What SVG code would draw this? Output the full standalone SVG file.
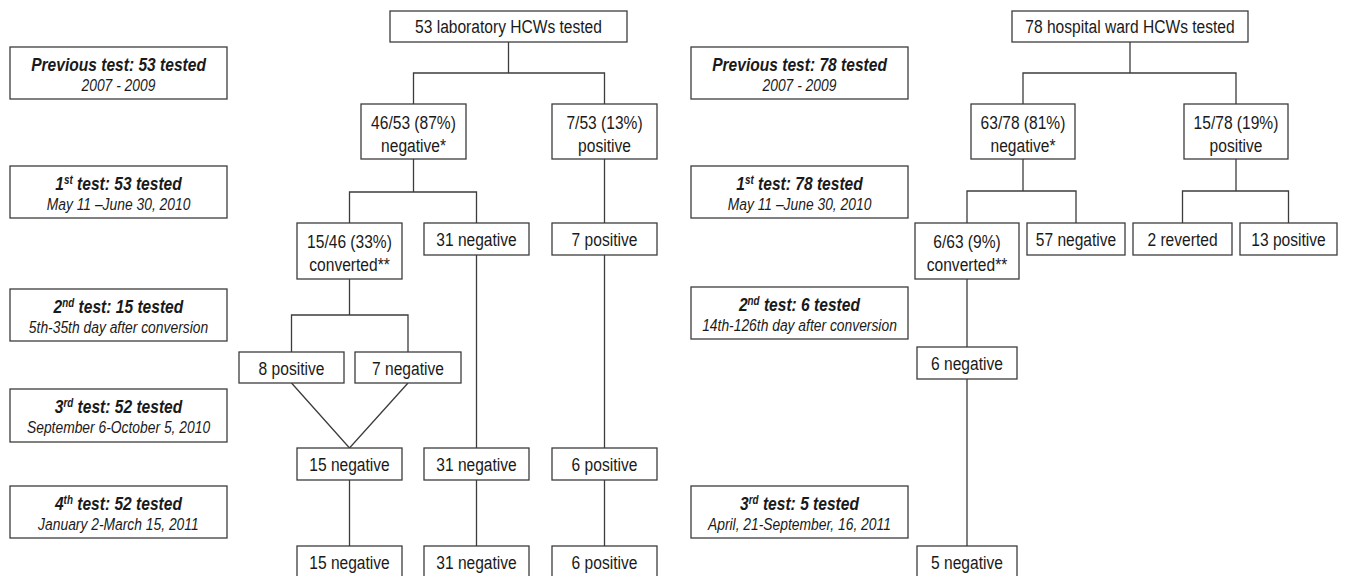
<svg xmlns="http://www.w3.org/2000/svg" width="1345" height="576" viewBox="0 0 1345 576">
<style>
.box{fill:#fff;stroke:#3c3c3c;stroke-width:1.3}
.ln{fill:none;stroke:#3c3c3c;stroke-width:1.3}
text{font-family:"Liberation Sans Narrow","Arial Narrow","Liberation Sans",sans-serif;font-size:19px;fill:#1a1a1a;text-anchor:middle;transform-box:fill-box;transform-origin:center;transform:scaleX(0.82)}
.lb{font-weight:bold;font-style:italic}
.ls{font-style:italic;font-size:16.5px;transform:scaleX(0.84)}
.sup{font-size:12px}
</style>
<rect width="1345" height="576" fill="#fff"/>
<g id="connectors">
<polyline class="ln" points="508.5,42 508.5,73"/>
<polyline class="ln" points="413.5,104 413.5,73 604.5,73 604.5,104"/>
<polyline class="ln" points="413.5,159 413.5,192"/>
<polyline class="ln" points="349.5,223 349.5,192 476.5,192 476.5,223"/>
<polyline class="ln" points="604.5,159 604.5,223"/>
<polyline class="ln" points="349.5,279 349.5,315"/>
<polyline class="ln" points="291.5,352 291.5,315 408,315 408,352"/>
<polyline class="ln" points="476.5,255 476.5,448"/>
<polyline class="ln" points="604.5,255 604.5,448"/>
<polyline class="ln" points="291.5,383 349.5,448 408,383"/>
<polyline class="ln" points="349.5,480 349.5,546"/>
<polyline class="ln" points="476.5,480 476.5,546"/>
<polyline class="ln" points="604.5,480 604.5,546"/>
<polyline class="ln" points="1130,42 1130,73"/>
<polyline class="ln" points="1023,104 1023,73 1236,73 1236,104"/>
<polyline class="ln" points="1023,159 1023,191"/>
<polyline class="ln" points="967,223 967,191 1076,191 1076,223"/>
<polyline class="ln" points="1236,159 1236,191"/>
<polyline class="ln" points="1182.5,223 1182.5,191 1288.5,191 1288.5,223"/>
<polyline class="ln" points="967,279 967,347"/>
<polyline class="ln" points="967,379 967,546"/>
</g>
<g id="label-prev-left"><rect class="box" x="10" y="47" width="217" height="52"/><text class="lb" x="118.5" y="71">Previous test: 53 tested</text><text class="ls" x="118.5" y="91">2007 - 2009</text></g>
<g id="label-1st-left"><rect class="box" x="10" y="166" width="217" height="52"/><text class="lb" x="118.5" y="190">1<tspan class="sup" dy="-6">st</tspan><tspan dy="6"> test: 53 tested</tspan></text><text class="ls" x="118.5" y="210">May 11 –June 30, 2010</text></g>
<g id="label-2nd-left"><rect class="box" x="10" y="289" width="217" height="52"/><text class="lb" x="118.5" y="313">2<tspan class="sup" dy="-6">nd</tspan><tspan dy="6"> test: 15 tested</tspan></text><text class="ls" x="118.5" y="333">5th-35th day after conversion</text></g>
<g id="label-3rd-left"><rect class="box" x="10" y="389" width="217" height="53"/><text class="lb" x="118.5" y="413">3<tspan class="sup" dy="-6">rd</tspan><tspan dy="6"> test: 52 tested</tspan></text><text class="ls" x="118.5" y="433">September 6-October 5, 2010</text></g>
<g id="label-4th-left"><rect class="box" x="10" y="486" width="217" height="52"/><text class="lb" x="118.5" y="510">4<tspan class="sup" dy="-6">th</tspan><tspan dy="6"> test: 52 tested</tspan></text><text class="ls" x="118.5" y="530">January 2-March 15, 2011</text></g>
<g id="lab-top"><rect class="box" x="390" y="11" width="237" height="31"/><text x="508.5" y="33">53 laboratory HCWs tested</text></g>
<g id="lab-neg"><rect class="box" x="361" y="104" width="105" height="55"/><text x="413.5" y="129">46/53 (87%)</text><text x="413.5" y="152">negative*</text></g>
<g id="lab-pos"><rect class="box" x="552" y="104" width="105" height="55"/><text x="604.5" y="129">7/53 (13%)</text><text x="604.5" y="152">positive</text></g>
<g id="lab-conv"><rect class="box" x="297" y="223" width="105" height="56"/><text x="349.5" y="248">15/46 (33%)</text><text x="349.5" y="271">converted**</text></g>
<g id="lab-neg31-1"><rect class="box" x="424" y="223" width="105" height="32"/><text x="476.5" y="246">31 negative</text></g>
<g id="lab-pos7"><rect class="box" x="552" y="223" width="105" height="32"/><text x="604.5" y="246">7 positive</text></g>
<g id="lab-pos8"><rect class="box" x="239" y="352" width="105" height="31"/><text x="291.5" y="375">8 positive</text></g>
<g id="lab-neg7"><rect class="box" x="355" y="352" width="106" height="31"/><text x="408" y="375">7 negative</text></g>
<g id="lab-neg15-3"><rect class="box" x="297" y="448" width="105" height="32"/><text x="349.5" y="471">15 negative</text></g>
<g id="lab-neg31-3"><rect class="box" x="424" y="448" width="105" height="32"/><text x="476.5" y="471">31 negative</text></g>
<g id="lab-pos6-3"><rect class="box" x="552" y="448" width="105" height="32"/><text x="604.5" y="471">6 positive</text></g>
<g id="lab-neg15-4"><rect class="box" x="297" y="546" width="105" height="32"/><text x="349.5" y="569">15 negative</text></g>
<g id="lab-neg31-4"><rect class="box" x="424" y="546" width="105" height="32"/><text x="476.5" y="569">31 negative</text></g>
<g id="lab-pos6-4"><rect class="box" x="552" y="546" width="105" height="32"/><text x="604.5" y="569">6 positive</text></g>
<g id="label-prev-right"><rect class="box" x="691" y="47" width="217" height="52"/><text class="lb" x="799.5" y="71">Previous test: 78 tested</text><text class="ls" x="799.5" y="91">2007 - 2009</text></g>
<g id="label-1st-right"><rect class="box" x="691" y="166" width="217" height="52"/><text class="lb" x="799.5" y="190">1<tspan class="sup" dy="-6">st</tspan><tspan dy="6"> test: 78 tested</tspan></text><text class="ls" x="799.5" y="210">May 11 –June 30, 2010</text></g>
<g id="label-2nd-right"><rect class="box" x="691" y="287" width="217" height="52"/><text class="lb" x="799.5" y="311">2<tspan class="sup" dy="-6">nd</tspan><tspan dy="6"> test: 6 tested</tspan></text><text class="ls" x="799.5" y="331">14th-126th day after conversion</text></g>
<g id="label-3rd-right"><rect class="box" x="691" y="486" width="217" height="52"/><text class="lb" x="799.5" y="510">3<tspan class="sup" dy="-6">rd</tspan><tspan dy="6"> test: 5 tested</tspan></text><text class="ls" x="799.5" y="530">April, 21-September, 16, 2011</text></g>
<g id="ward-top"><rect class="box" x="1012" y="11" width="236" height="31"/><text x="1130" y="33">78 hospital ward HCWs tested</text></g>
<g id="ward-neg"><rect class="box" x="971" y="104" width="104" height="55"/><text x="1023" y="129">63/78 (81%)</text><text x="1023" y="152">negative*</text></g>
<g id="ward-pos"><rect class="box" x="1184" y="104" width="104" height="55"/><text x="1236" y="129">15/78 (19%)</text><text x="1236" y="152">positive</text></g>
<g id="ward-conv"><rect class="box" x="915" y="223" width="104" height="56"/><text x="967" y="248">6/63 (9%)</text><text x="967" y="271">converted**</text></g>
<g id="ward-neg57"><rect class="box" x="1027" y="223" width="98" height="32"/><text x="1076" y="246">57 negative</text></g>
<g id="ward-rev2"><rect class="box" x="1133" y="223" width="99" height="32"/><text x="1182.5" y="246">2 reverted</text></g>
<g id="ward-pos13"><rect class="box" x="1240" y="223" width="97" height="32"/><text x="1288.5" y="246">13 positive</text></g>
<g id="ward-neg6"><rect class="box" x="917" y="347" width="100" height="32"/><text x="967" y="370">6 negative</text></g>
<g id="ward-neg5"><rect class="box" x="917" y="546" width="100" height="32"/><text x="967" y="569">5 negative</text></g>
</svg>
